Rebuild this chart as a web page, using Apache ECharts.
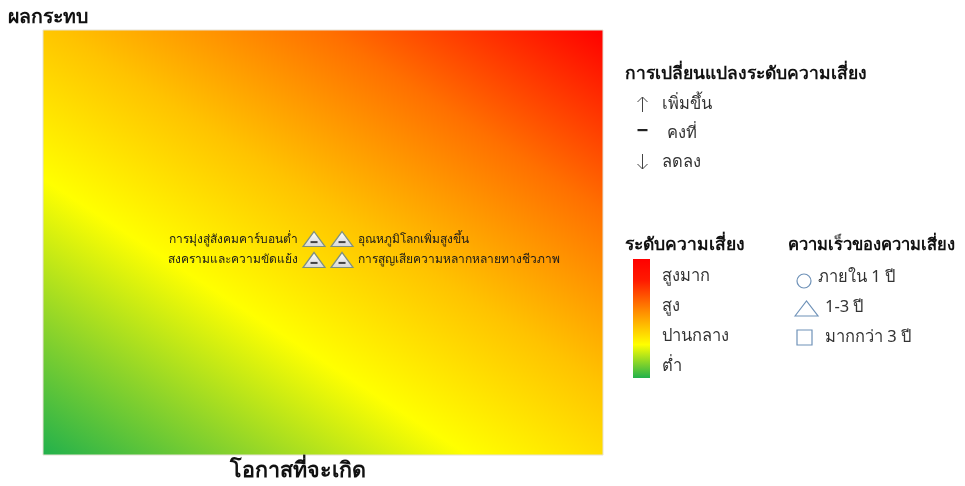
<!DOCTYPE html>
<html>
<head>
<meta charset="utf-8">
<script src="https://cdn.jsdelivr.net/npm/echarts@6/dist/echarts.min.js"></script>
<style>html,body{margin:0;padding:0;background:#fff}#c{width:965px;height:486px}</style>
</head>
<body>
<div id="c"></div>
<script>
// ---- data ----
const risks = ['การมุ่งสู่สังคมคาร์บอนต่ำ', 'อุณหภูมิโลกเพิ่มสูงขึ้น', 'สงครามและความขัดแย้ง', 'การสูญเสียความหลากหลายทางชีวภาพ'];
const likelihood = [4.84, 5.34, 4.84, 5.34];
const impact = [5.08, 5.08, 4.59, 4.59];
const labelSide = ['left', 'right', 'left', 'right'];
const yTitle = 'ผลกระทบ';
const xTitle = 'โอกาสที่จะเกิด';
const changeTitle = 'การเปลี่ยนแปลงระดับความเสี่ยง';
const changeKinds = ['up', 'same', 'down'];
const changeLabels = ['เพิ่มขึ้น', 'คงที่', 'ลดลง'];
const levelTitle = 'ระดับความเสี่ยง';
const levelLabels = ['สูงมาก', 'สูง', 'ปานกลาง', 'ต่ำ'];
const speedTitle = 'ความเร็วของความเสี่ยง';
const speedLabels = ['ภายใน 1 ปี', '1-3 ปี', 'มากกว่า 3 ปี'];

const FONT = 'Tahoma, "Noto Sans", sans-serif';
const chart = echarts.init(document.getElementById('c'));

const pts = risks.map((r, i) => ({
  value: [likelihood[i], impact[i]],
  name: r,
  label: { show: true, position: labelSide[i], formatter: r, distance: 4 }
}));

function txt(x, y, text, font, fill) {
  return { type: 'text', style: { x: x, y: y, text: text, font: font, fill: fill, verticalAlign: 'middle', align: 'left' } };
}

const graphics = [];
// legend 1
graphics.push(txt(625, 74, changeTitle, 'bold 17.5px ' + FONT, '#111'));
const rowY1 = [104, 133, 162];
const ax = 642.5;
changeKinds.forEach((k, i) => {
  const cy = rowY1[i];
  const arrowStyle = { stroke: '#444', lineWidth: 1, fill: 'none' };
  if (k === 'up') {
    graphics.push({ type: 'polyline', shape: { points: [[ax, cy + 8], [ax, cy - 7]] }, style: arrowStyle });
    graphics.push({ type: 'polyline', shape: { points: [[ax - 5, cy - 2], [ax, cy - 7], [ax + 5, cy - 2]] }, style: arrowStyle });
  } else if (k === 'down') {
    graphics.push({ type: 'polyline', shape: { points: [[ax, cy - 8], [ax, cy + 7]] }, style: arrowStyle });
    graphics.push({ type: 'polyline', shape: { points: [[ax - 5, cy + 2], [ax, cy + 7], [ax + 5, cy + 2]] }, style: arrowStyle });
  } else {
    graphics.push({ type: 'rect', shape: { x: ax - 5, y: cy - 4, width: 10, height: 2.2 }, style: { fill: '#222' } });
  }
  graphics.push(txt(i === 1 ? 667 : 662, cy, changeLabels[i], '16.5px ' + FONT, '#333'));
});
// legend 2
graphics.push(txt(625, 245, levelTitle, 'bold 17.5px ' + FONT, '#111'));
graphics.push({ type: 'rect', shape: { x: 633, y: 259, width: 17, height: 119 }, style: {
  fill: new echarts.graphic.LinearGradient(0, 0, 0, 1, [
    { offset: 0, color: '#ff0000' }, { offset: 0.18, color: '#ff1a00' }, { offset: 0.45, color: '#ff9000' },
    { offset: 0.72, color: '#ffff00' }, { offset: 1, color: '#22b14c' }]) } });
const rowY2 = [276, 306, 336, 366];
levelLabels.forEach((s, i) => {
  graphics.push(txt(662, rowY2[i], s, '16.5px ' + FONT, '#333'));
});
// legend 3
graphics.push(txt(788, 245, speedTitle, 'bold 16.5px ' + FONT, '#111'));
graphics.push({ type: 'circle', shape: { cx: 804, cy: 281, r: 7 }, style: { fill: 'none', stroke: '#6f92b8', lineWidth: 1.2 } });
graphics.push({ type: 'polygon', shape: { points: [[795, 316], [806.5, 301], [818, 316]] }, style: { fill: 'none', stroke: '#6f92b8', lineWidth: 1.2 } });
graphics.push({ type: 'rect', shape: { x: 797, y: 330, width: 15, height: 15 }, style: { fill: 'none', stroke: '#6f92b8', lineWidth: 1.2 } });
const rowY3 = [277, 307, 337];
speedLabels.forEach((s, i) => {
  graphics.push(txt(i === 0 ? 818 : 825, rowY3[i], s, '16.5px ' + FONT, '#333'));
});
// axis titles
graphics.push(txt(8, 17, yTitle, 'bold 19.5px ' + FONT, '#111'));
graphics.push(txt(230, 471, xTitle, 'bold 21.5px ' + FONT, '#111'));

const option = {
  animation: false,
  textStyle: { fontFamily: FONT },
  grid: { left: 43, top: 30, right: 362, bottom: 31, show: true, borderColor: '#e6e2d4', borderWidth: 1, backgroundColor: '#ffcc00' },
  xAxis: { type: 'value', min: 0, max: 10, show: false },
  yAxis: { type: 'value', min: 0, max: 10, show: false },
  series: [
    {
      type: 'scatter', symbol: 'triangle', symbolSize: [22, 15],
      itemStyle: {
        color: new echarts.graphic.LinearGradient(0, 0, 0, 1, [{ offset: 0, color: '#ffffff' }, { offset: 1, color: '#d6d6d6' }]),
        borderColor: '#7e9080', borderWidth: 1.2, opacity: 1
      },
      label: { color: '#1a1a1a', fontSize: 12, fontFamily: FONT },
      data: pts, z: 2
    },
    {
      type: 'scatter', symbol: 'rect', symbolSize: [7, 2], symbolOffset: [0, 3],
      itemStyle: { color: '#1a1a1a' },
      data: risks.map((r, i) => [likelihood[i], impact[i]]), z: 3
    }
  ],
  graphic: graphics
};
chart.setOption(option);

// diagonal background gradient computed from the grid's pixel corners
const bl = chart.convertToPixel({ gridIndex: 0 }, [0, 0]);
const tr = chart.convertToPixel({ gridIndex: 0 }, [10, 10]);
const ang = 33 * Math.PI / 180;
const n = [Math.sin(ang), -Math.cos(ang)];
const d = (tr[0] - bl[0]) * n[0] + (tr[1] - bl[1]) * n[1];
const end = [bl[0] + n[0] * d, bl[1] + n[1] * d];
chart.setOption({
  grid: {
    backgroundColor: new echarts.graphic.LinearGradient(bl[0], bl[1], end[0], end[1], [
      { offset: 0, color: '#22b14c' },
      { offset: 0.17, color: '#8ed42a' },
      { offset: 0.35, color: '#ffff00' },
      { offset: 0.55, color: '#ffc300' },
      { offset: 0.77, color: '#ff7000' },
      { offset: 1, color: '#ff0000' }
    ], true)
  }
});
</script>
</body>
</html>
